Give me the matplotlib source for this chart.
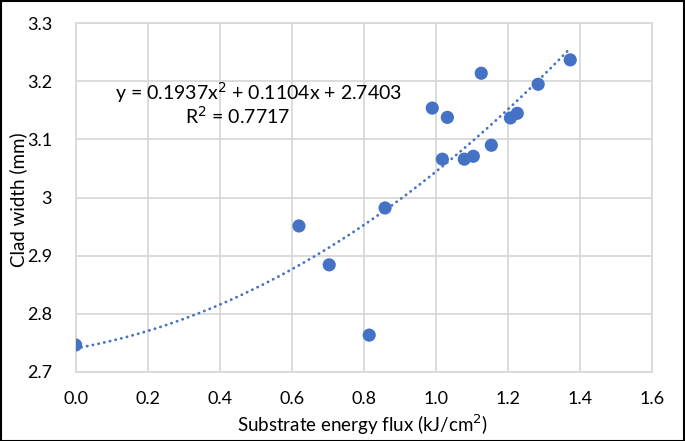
import numpy as np
import matplotlib
matplotlib.use("Agg")
import matplotlib.pyplot as plt
from matplotlib.patches import Rectangle

# Data
energy_flux = [0.0, 0.62, 0.704, 0.815, 0.859, 0.99, 1.018, 1.032, 1.079, 1.104,
               1.126, 1.154, 1.207, 1.226, 1.284, 1.373]
clad_width = [2.746, 2.951, 2.884, 2.763, 2.982, 3.154, 3.066, 3.138, 3.066, 3.071,
              3.214, 3.090, 3.137, 3.145, 3.195, 3.237]
trend_coeffs = [0.1937, 0.1104, 2.7403]   # quadratic trendline shown on chart
trend_range = [0.0, 1.37]
x_ticks = [0.0, 0.2, 0.4, 0.6, 0.8, 1.0, 1.2, 1.4, 1.6]
y_ticks = [2.7, 2.8, 2.9, 3.0, 3.1, 3.2, 3.3]
y_tick_labels = ["2.7", "2.8", "2.9", "3", "3.1", "3.2", "3.3"]
x_tick_labels = ["0.0", "0.2", "0.4", "0.6", "0.8", "1.0", "1.2", "1.4", "1.6"]

plt.rcParams['font.family'] = ['Lato', 'DejaVu Sans']

W, H = 685, 441
fig = plt.figure(figsize=(W / 100, H / 100), dpi=100)
ax = fig.add_axes([75.6 / W, 1 - 371.7 / H, (652 - 75.6) / W, (371.7 - 23.3) / H])

blue = "#4472C4"
grid_c = "#D9D9D9"

tx = np.linspace(trend_range[0], trend_range[1], 300)
ty = np.polyval(trend_coeffs, tx)
ax.plot(tx, ty, color=blue, linewidth=2.0, linestyle=(0, (0.1, 2.0)),
        dash_capstyle="round", zorder=2)
ax.scatter(energy_flux, clad_width, s=90, color=blue, edgecolors="none", zorder=3)

ax.set_xlim(0, 1.6)
ax.set_ylim(2.7, 3.3)
ax.set_xticks(x_ticks)
ax.set_xticklabels(x_tick_labels)
ax.set_yticks(y_ticks)
ax.set_yticklabels(y_tick_labels)
ax.tick_params(length=0, labelsize=13, colors="black")
ax.tick_params(axis="x", pad=14)
ax.tick_params(axis="y", pad=17)
ax.grid(True, color=grid_c, linewidth=1.3)
ax.set_axisbelow(True)
for s in ax.spines.values():
    s.set_color(grid_c)
    s.set_linewidth(1.3)

ax.set_xlabel("Substrate energy flux (kJ/cm$^2$)", fontsize=13.5)
ax.set_ylabel("Clad width (mm)", fontsize=13.5)
ax.xaxis.set_label_coords(363 / W, 1 - 425 / H, transform=fig.transFigure)
ax.xaxis.label.set_va("center")
ax.yaxis.set_label_coords(18 / W, 1 - 200 / H, transform=fig.transFigure)
ax.yaxis.label.set_va("center")

fig.text(259 / W, 1 - 93 / H, "y = 0.1937x$^2$ + 0.1104x + 2.7403", ha="center",
         va="center", fontsize=14)
fig.text(238 / W, 1 - 116 / H, "R$^2$ = 0.7717", ha="center", va="center", fontsize=14)

fig.patches.append(Rectangle((0.5 / W, 0.5 / H), 1 - 1.5 / W, 1 - 1.5 / H,
                             transform=fig.transFigure, fill=False,
                             edgecolor="black", linewidth=1.5))

fig.savefig("out.png", dpi=100)
